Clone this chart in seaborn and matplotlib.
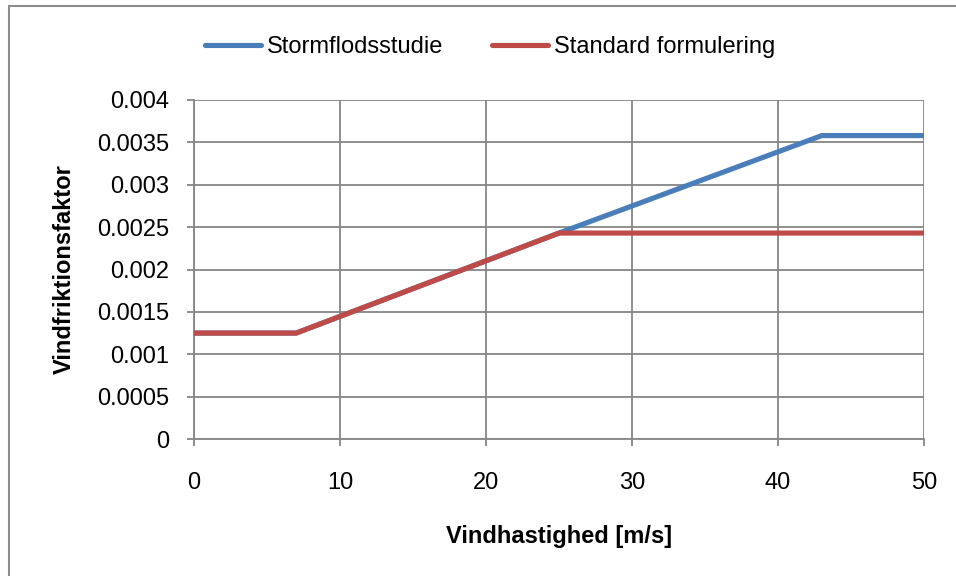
import matplotlib
matplotlib.use("Agg")
import matplotlib.pyplot as plt
import seaborn as sns
import pandas as pd
from matplotlib.lines import Line2D

# Data
storm_x = [0, 7, 25, 43, 50]
storm_y = [0.00125, 0.00125, 0.00243, 0.00358, 0.00358]
std_x = [0, 7, 25, 50]
std_y = [0.00125, 0.00125, 0.00243, 0.00243]
series_names = ["Stormflodsstudie", "Standard formulering"]
colors = ["#4A7EBB", "#BE4B48"]
x_ticks = [0, 10, 20, 30, 40, 50]
y_ticks = [0, 0.0005, 0.001, 0.0015, 0.002, 0.0025, 0.003, 0.0035, 0.004]
y_tick_labels = ["0", "0.0005", "0.001", "0.0015", "0.002", "0.0025", "0.003", "0.0035", "0.004"]

df = pd.concat([
    pd.DataFrame({"x": storm_x, "y": storm_y, "serie": series_names[0]}),
    pd.DataFrame({"x": std_x, "y": std_y, "serie": series_names[1]}),
])

sns.set_style("white")
plt.rcParams['font.family'] = ['Liberation Sans', 'DejaVu Sans']
plt.rcParams['text.color'] = 'black'
plt.rcParams['axes.labelcolor'] = 'black'

fig = plt.figure(figsize=(9.56, 5.76), dpi=100)
ax = fig.add_axes([0.2029, 0.2378, 0.7636, 0.5886])

sns.lineplot(data=df, x="x", y="y", hue="serie", palette=colors,
             hue_order=series_names, linewidth=3.7, ax=ax, sort=False,
             estimator=None, zorder=3, legend=False)

ax.set_xlim(0, 50)
ax.set_ylim(0, 0.004)
ax.set_xticks(x_ticks)
ax.set_xticklabels([str(t) for t in x_ticks])
ax.set_yticks(y_ticks)
ax.set_yticklabels(y_tick_labels)
ax.grid(True, color="#868686", linewidth=1.3, zorder=1)
for s in ["top", "right"]:
    ax.spines[s].set_visible(False)
for s in ["left", "bottom"]:
    ax.spines[s].set_color("#868686")
    ax.spines[s].set_linewidth(1.3)
ax.tick_params(axis="both", direction="out", length=5, width=1.3, color="#868686",
               labelsize=17, labelcolor="black", bottom=True, left=True)
ax.tick_params(axis="x", pad=19)
ax.tick_params(axis="y", pad=13)

ax.set_xlabel("Vindhastighed [m/s]", fontsize=17, fontweight="bold", labelpad=22, color="black")
ax.set_ylabel("Vindfriktionsfaktor", fontsize=17, fontweight="bold", labelpad=15, color="black")

handles = [Line2D([0], [0], color=c, linewidth=3.7) for c in colors]
leg = fig.legend(handles, series_names, loc="center", bbox_to_anchor=(0.5126, 0.918),
                 bbox_transform=fig.transFigure, ncol=2, frameon=False,
                 fontsize=17, handlelength=2.35, handletextpad=0.25, columnspacing=2.1)
for t in leg.get_texts():
    t.set_color("black")

# Outer chart frame (only top and left edges are visible in the crop)
fig.add_artist(Line2D([9 / 956, 9 / 956], [0, 1 - 6 / 576], transform=fig.transFigure,
                      color="#8c8c8c", linewidth=1.5))
fig.add_artist(Line2D([9 / 956, 1], [1 - 6 / 576, 1 - 6 / 576], transform=fig.transFigure,
                      color="#8c8c8c", linewidth=1.5))

fig.savefig("out.png", dpi=100)
